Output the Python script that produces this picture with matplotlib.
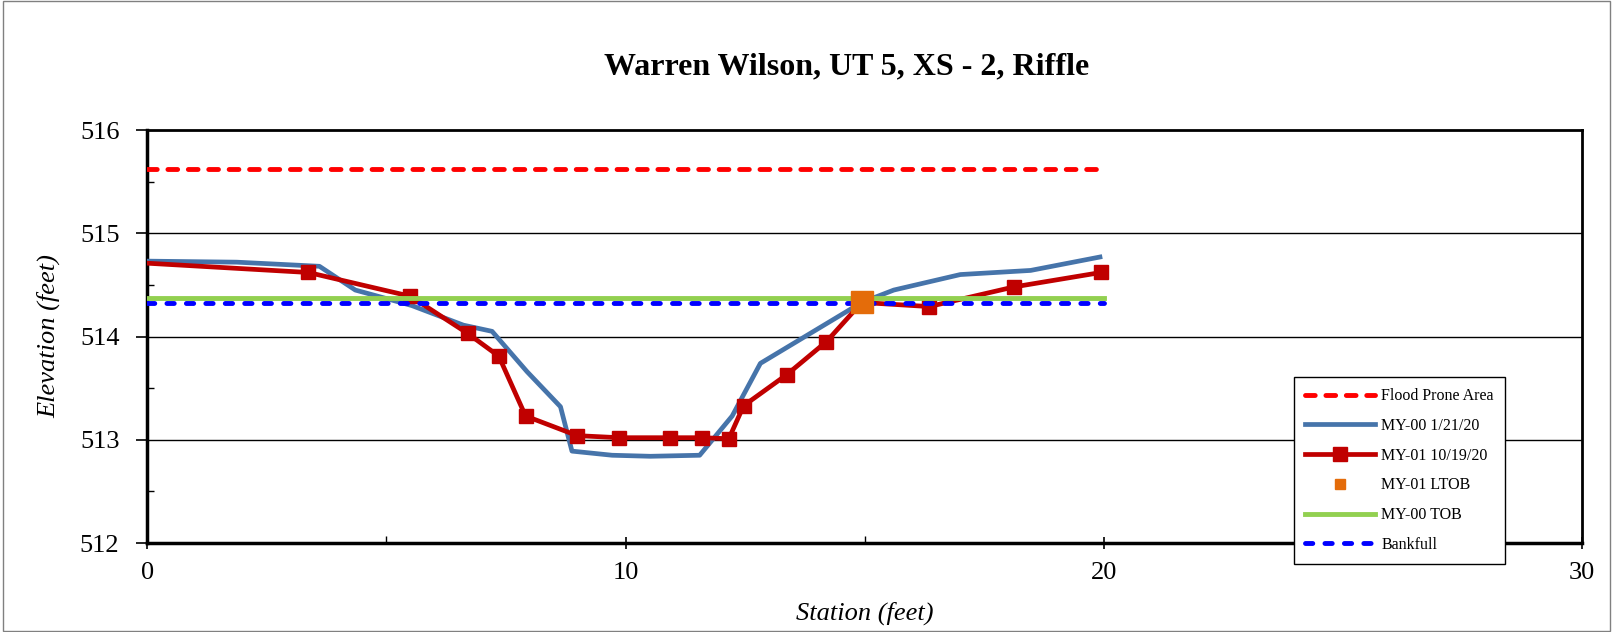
import numpy as np
import matplotlib
matplotlib.use('Agg')
import matplotlib.pyplot as plt
from matplotlib.patches import Rectangle

plt.rcParams['font.family'] = ['Liberation Serif', 'DejaVu Serif']

# MY-00 survey (1/21/20)
my00_station = [0.0, 1.87, 3.6, 4.35, 5.53, 6.61, 7.21, 7.94, 8.64, 8.88, 9.72,
                10.52, 11.55, 12.23, 12.82, 14.94, 15.61, 17.0, 18.47, 19.92]
my00_elev = [514.73, 514.72, 514.68, 514.45, 514.30, 514.11, 514.05, 513.66, 513.32, 512.89, 512.85,
             512.84, 512.85, 513.23, 513.74, 514.33, 514.45, 514.60, 514.64, 514.77]

# MY-01 survey (10/19/20)
my01_station = [0.0, 3.37, 5.50, 6.70, 7.35, 7.91, 8.99, 9.86, 10.94, 11.60, 12.16,
                12.47, 13.37, 14.2, 14.94, 16.35, 18.12, 19.94]
my01_elev = [514.71, 514.62, 514.39, 514.03, 513.81, 513.23, 513.04, 513.02, 513.02, 513.02, 513.01,
             513.33, 513.63, 513.95, 514.33, 514.29, 514.48, 514.62]

ltob_station = [14.94]
ltob_elev = [514.33]

level_station = [0.0, 20.0]
flood_prone = 515.62
tob = 514.37
bankfull = 514.32

fig = plt.figure(figsize=(16.13, 6.32), dpi=100)
ax = fig.add_axes([0.0913, 0.1408, 0.8895, 0.6535])

ax.plot(level_station, [flood_prone] * 2, color='#FF0000', lw=3.5,
        linestyle=(0, (2.0, 2.2)), dash_capstyle='round', label='Flood Prone Area', zorder=3)
ax.plot(my00_station, my00_elev, color='#4674AA', lw=3.4, label='MY-00 1/21/20', zorder=4)
ax.plot(my01_station, my01_elev, color='#C00000', lw=3.4, marker='s', markersize=10,
        markevery=list(range(1, len(my01_station))), label='MY-01 10/19/20', zorder=5)
ax.plot(ltob_station, ltob_elev, linestyle='none', marker='s', markersize=15.5,
        color='#E46C0A', label='MY-01 LTOB', zorder=7)
ax.plot(level_station, [tob] * 2, color='#92D050', lw=3.5, label='MY-00 TOB', zorder=6)
ax.plot(level_station, [bankfull] * 2, color='#0000FF', lw=3.5,
        linestyle=(0, (1.5, 2.5)), dash_capstyle='round', label='Bankfull', zorder=6)

ax.set_xlim(0, 30)
ax.set_ylim(512, 516)
ax.set_xticks([0, 10, 20, 30])
ax.set_xticks([5, 15, 25], minor=True)
ax.set_yticks([512, 513, 514, 515, 516])
ax.set_yticks([512.5, 513.5, 514.5, 515.5], minor=True)
ax.tick_params(axis='x', which='major', direction='inout', length=8, width=1.2, pad=10, labelsize=19)
ax.tick_params(axis='x', which='minor', direction='in', length=5, width=1)
ax.tick_params(axis='y', which='major', direction='out', length=8, width=1.2, pad=12, labelsize=19)
ax.tick_params(axis='y', which='minor', direction='in', length=5, width=1)

for v in [513, 514, 515]:
    ax.axhline(v, color='black', lw=1.0, zorder=1)

for s in ['left', 'bottom']:
    ax.spines[s].set_linewidth(2.5)
for s in ['top', 'right']:
    ax.spines[s].set_linewidth(2.0)

ax.set_xlabel('Station (feet)', fontsize=19, style='italic', labelpad=12)
ax.set_ylabel('Elevation (feet)', fontsize=19, style='italic', labelpad=14)
fig.text(0.525, 0.894, 'Warren Wilson, UT 5, XS - 2, Riffle', ha='center', va='center',
         fontsize=23, fontweight='bold')

leg = ax.legend(loc='upper left', bbox_to_anchor=(0.799, 0.402), fontsize=11.5,
                handlelength=4.4, handletextpad=0.4, labelspacing=0.86, borderpad=0.7,
                borderaxespad=0, fancybox=False, framealpha=1, edgecolor='black')
leg.get_frame().set_linewidth(1.0)
leg.set_zorder(10)
leg.legend_handles[3].set_markersize(7)

fig.patches.append(Rectangle((0.002, 0.002), 0.996, 0.996, transform=fig.transFigure,
                             fill=False, edgecolor='#808080', lw=1.0))

fig.savefig('out.png', dpi=100)
